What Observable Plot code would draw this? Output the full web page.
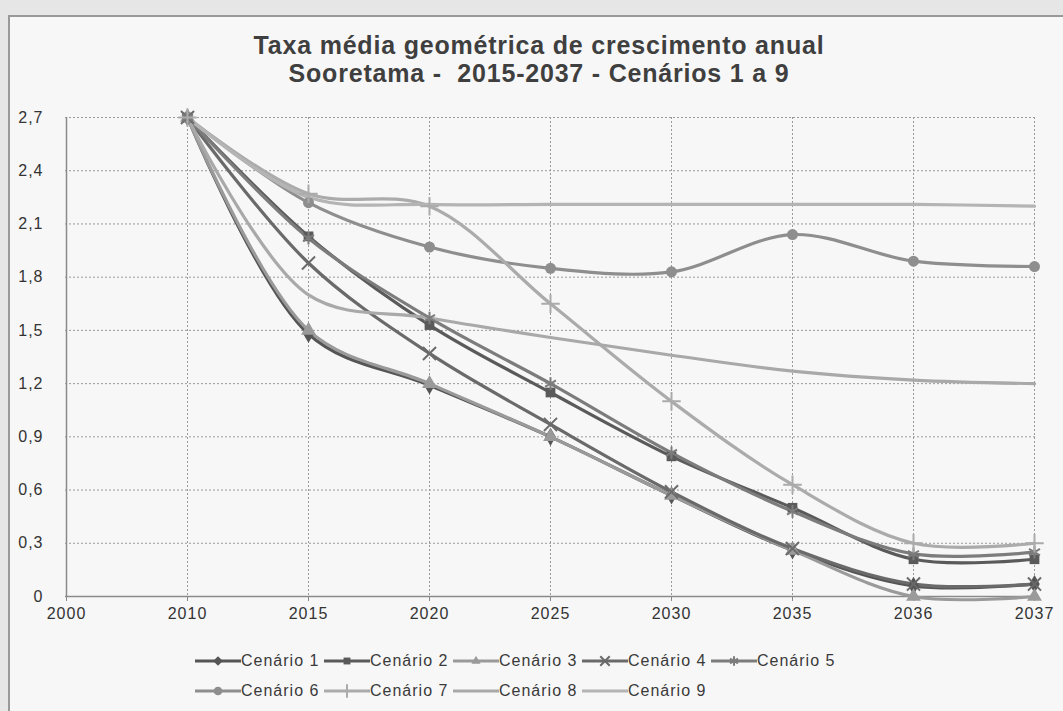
<!DOCTYPE html>
<html><head><meta charset="utf-8">
<script src="https://cdn.jsdelivr.net/npm/d3@7"></script>
<script src="https://cdn.jsdelivr.net/npm/@observablehq/plot@0.6"></script>
<style>
body{margin:0;background:#e6e6e6;width:1063px;height:711px;overflow:hidden;position:relative;font-family:"Liberation Sans",Arial,sans-serif;}
#frame{position:absolute;left:8px;top:15px;width:1060px;height:700px;background:#f7f7f7;border-top:2px solid #999;border-left:2px solid #999;}
#title{position:absolute;left:0;top:31px;width:1078px;text-align:center;font-weight:bold;font-size:25px;color:#3f3f3f;line-height:28px;letter-spacing:0.8px}
#chart{position:absolute;left:0;top:100px}
#chart svg text{letter-spacing:1px}
.leg{position:absolute;height:20px;display:flex;align-items:center;font-size:16px;color:#3a3a3a;letter-spacing:1px;white-space:nowrap}
</style></head>
<body>
<div id="frame"></div>
<div id="title">Taxa média geométrica de crescimento anual<br>Sooretama -&nbsp; 2015-2037 - Cenários 1 a 9</div>
<div id="chart"></div>
<div id="legend"></div>
<script>
const years = ["2000","2010","2015","2020","2025","2030","2035","2036","2037"];
const dataYears = ["2010","2015","2020","2025","2030","2035","2036","2037"];
const yTicks = [0,0.3,0.6,0.9,1.2,1.5,1.8,2.1,2.4,2.7];
const seriesNames = ["Cenário 1","Cenário 2","Cenário 3","Cenário 4","Cenário 5","Cenário 6","Cenário 7","Cenário 8","Cenário 9"];
const cenario1 = [2.7,1.48,1.19,0.90,0.57,0.26,0.06,0.07];
const cenario2 = [2.7,2.03,1.53,1.15,0.79,0.50,0.21,0.21];
const cenario3 = [2.7,1.50,1.20,0.90,0.57,0.26,0.00,0.00];
const cenario4 = [2.7,1.88,1.37,0.97,0.59,0.27,0.07,0.07];
const cenario5 = [2.7,2.02,1.57,1.20,0.81,0.48,0.24,0.25];
const cenario6 = [2.7,2.22,1.97,1.85,1.83,2.04,1.89,1.86];
const cenario7 = [2.7,2.27,2.20,1.65,1.10,0.63,0.30,0.30];
const cenario8 = [2.7,1.70,1.57,1.46,1.36,1.27,1.22,1.20];
const cenario9 = [2.7,2.25,2.21,2.21,2.21,2.21,2.21,2.20];
const seriesValues = [cenario1,cenario2,cenario3,cenario4,cenario5,cenario6,cenario7,cenario8,cenario9];
const seriesColors = ["#555555","#5a5a5a","#9a9a9a","#6a6a6a","#7c7c7c","#8e8e8e","#ababab","#a9a9a9","#b4b4b4"];
const seriesSymbols = ["diamond","square","triangle","times","asterisk","circle","plus",null,null];

const rows = [];
seriesNames.forEach((s,i)=>seriesValues[i].forEach((v,j)=>rows.push({serie:s, year:dataYears[j], value:v, sym:seriesSymbols[i]})));
const filledSyms = ["diamond","square","triangle","circle"];
const strokeSyms = ["times","asterisk","plus"];
const fmt = d => d===0 ? "0" : d.toFixed(1).replace(".",",");

const W=1063, H=530;
const chart = Plot.plot({
  width:W, height:H,
  marginLeft:65, marginRight:28, marginTop:17, marginBottom:34,
  style:{background:"transparent", fontFamily:"'Liberation Sans',Arial,sans-serif", fontSize:"16px", color:"#333"},
  x:{type:"point", domain:years, padding:0, label:null},
  y:{domain:[0,2.7], label:null},
  color:{domain:seriesNames, range:seriesColors},
  symbol:{domain:seriesNames, range:seriesSymbols.map(s=>s||"circle")},
  marks:[
    Plot.gridY(yTicks,{stroke:"#9a9a9a", strokeOpacity:1, strokeDasharray:"2,2"}),
    Plot.gridX(years,{stroke:"#9a9a9a", strokeOpacity:1, strokeDasharray:"2,2"}),
    Plot.ruleX(["2000"],{stroke:"#8a8a8a", strokeWidth:1.5}),
    Plot.ruleY([0],{stroke:"#8a8a8a", strokeWidth:1.5}),
    Plot.axisY(yTicks,{tickSize:0, tickPadding:22, tickFormat:fmt, fill:"#333", label:null}),
    Plot.axisX(years,{tickSize:5, tickPadding:6, stroke:"#8a8a8a", fill:"#333", label:null}),
    Plot.line(rows,{x:"year", y:"value", z:"serie", stroke:"serie", strokeWidth:3.2, curve:"catmull-rom"}),
    Plot.dot(rows.filter(d=>filledSyms.includes(d.sym)),{x:"year", y:"value", symbol:"serie", fill:"serie", r:5.5}),
    Plot.dot(rows.filter(d=>strokeSyms.includes(d.sym)),{x:"year", y:"value", symbol:"serie", stroke:"serie", strokeWidth:2, r:6})
  ]
});
document.getElementById("chart").appendChild(chart);

// legend
const legend = document.getElementById("legend");
const legendX0 = 195, legendStep = 129, legendRows = [651, 681];
const symPaths = {
  diamond: d3.symbol(d3.symbolDiamond2, 60)(),
  square: d3.symbol(d3.symbolSquare2, 60)(),
  triangle: d3.symbol(d3.symbolTriangle2, 60)(),
  circle: d3.symbol(d3.symbolCircle, 60)(),
  times: d3.symbol(d3.symbolTimes, 60)(),
  asterisk: d3.symbol(d3.symbolAsterisk, 60)(),
  plus: d3.symbol(d3.symbolPlus, 60)()
};
seriesNames.forEach((s,i)=>{
  const row = i<5 ? 0 : 1, col = i<5 ? i : i-5;
  const div = document.createElement("div");
  div.className="leg";
  div.style.left = (legendX0 + col*legendStep) + "px";
  div.style.top = legendRows[row] + "px";
  const c = seriesColors[i], sym = seriesSymbols[i];
  let mk = "";
  if (sym) {
    const filled = filledSyms.includes(sym);
    mk = `<path transform="translate(23,10)" d="${symPaths[sym]}" ${filled?`fill="${c}"`:`fill="none" stroke="${c}" stroke-width="2"`}/>`;
  }
  div.innerHTML = `<svg width="46" height="20"><line x1="0" x2="46" y1="10" y2="10" stroke="${c}" stroke-width="3"/>${mk}</svg><span>${s}</span>`;
  legend.appendChild(div);
});
</script>
</body></html>
